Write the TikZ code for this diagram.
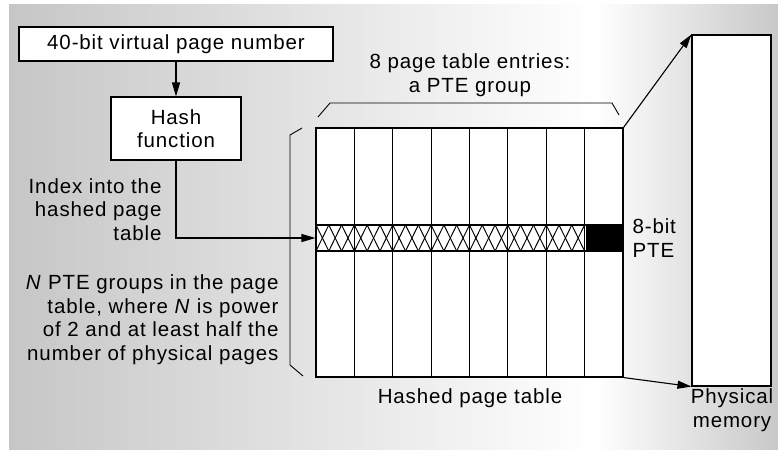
\documentclass[tikz,border=0pt]{standalone}
\usepackage{fontspec}
\setmainfont{Liberation Sans}[LetterSpace=4.3]
\usetikzlibrary{arrows.meta}
\definecolor{bgL}{HTML}{C6C6C6}
\definecolor{bgR}{HTML}{C8C8C8}
\begin{document}
\begin{tikzpicture}[x=1pt,y=-1pt,line width=1.1pt,
  box/.style={draw,fill=white,inner sep=0pt,font=\fontsize{20.5}{23}\selectfont},
  arr/.style={-{Triangle[length=14pt,width=8pt]}},
  lbl/.style={font=\fontsize{20.5}{23.5}\selectfont,inner sep=0pt},
  brk/.style={line width=0.9pt},
  hatch/.style={line width=0.95pt}]
\useasboundingbox (0,0) rectangle (778,451);
% background
\fill[left color=bgL,right color=white] (9,4) rectangle (595,449);
\fill[left color=white,right color=bgR] (595,4) rectangle (778,449);
% boxes
\node[box,minimum width=314pt,minimum height=34pt] (vpn) at (176,44) {40-bit virtual page number};
\node[box,minimum width=130pt,minimum height=63pt,align=center] (hash) at (176,128.5) {Hash\\function};
\node[draw,fill=white,inner sep=0pt,minimum width=307pt,minimum height=249pt] (tbl) at (469.5,252.5) {};
\node[draw,inner sep=0pt,minimum width=307pt,minimum height=26pt] (row) at (469.5,238) {};
\node[box,minimum width=79pt,minimum height=351pt] (pm) at (731.5,210.5) {};
% hatch and black entry
\fill[black] (585.6,225) rectangle (623,251);
\foreach \k in {0,...,20}{
  \draw[hatch] (316+\k*12.79,225) -- (316+\k*12.79+12.79,251);
  \draw[hatch] (316+\k*12.79+12.79,225) -- (316+\k*12.79,251);
}
% columns
\foreach \i in {1,...,7}{
  \draw (316+38.375*\i,128) -- (316+38.375*\i,377);
}
\draw (row.north west) rectangle (row.south east);
% brackets
\draw[brk] (318,117) -- (330,103) -- (612,103) -- (619,115);
\draw[brk] (302,128) -- (290,135) -- (290,365) -- (303,376);
% connectors
\draw[arr] (vpn.south) -- (hash.north);
\draw[arr] (hash.south) |- (row.west);
\draw[arr] (tbl.north east) -- (pm.north west);
\draw[arr] (tbl.south east) -- (pm.south west);
% labels (base anchor = last line baseline)
\node[lbl,anchor=base east,align=right] (idx) at (162,240) {Index into the\\hashed page\\table};
\node[lbl,anchor=base east,align=right] (grp) at (279,360) {\textit{N} PTE groups in the page\\table, where \textit{N} is power\\of 2 and at least half the\\number of physical pages};
\node[lbl,anchor=base,align=center] (ent) at (470,92) {8 page table entries:\\a PTE group};
\node[lbl,anchor=base west,align=left] (pte) at (632,257) {8-bit\\PTE};
\node[lbl,anchor=base] (hpt) at (470,403) {Hashed page table};
\node[lbl,anchor=base,align=center] (phm) at (732,427) {Physical\\memory};
\end{tikzpicture}
\end{document}
